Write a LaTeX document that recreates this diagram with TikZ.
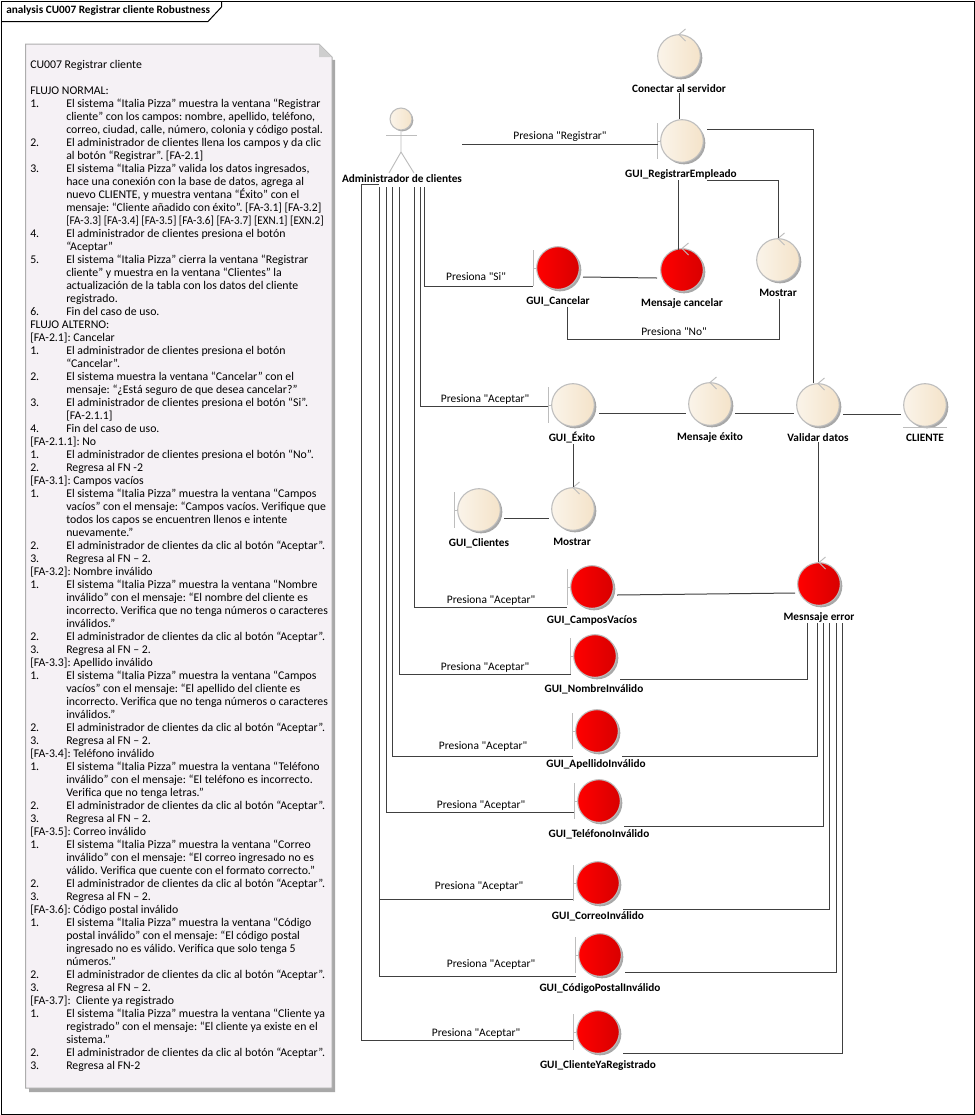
\documentclass[tikz,border=0pt]{standalone}
\usepackage{fontspec}
\usepackage{graphicx}
\setmainfont{Carlito}[Ligatures=TeXOff]
\frenchspacing
\usetikzlibrary{calc,shadows}
\definecolor{edgegrey}{HTML}{BDBDBD}
\definecolor{linegrey}{HTML}{404040}
\definecolor{notefill}{HTML}{F5F1F5}
\definecolor{notedge}{HTML}{ADADAD}
\definecolor{shadowgrey}{HTML}{A8A8A8}
\definecolor{BeigeA}{HTML}{F4E3C9}
\definecolor{RedB}{HTML}{D80000}
\tikzset{
  x=0.75pt,y=-0.75pt,
  ball/.style={circle,draw=edgegrey,line width=0.8pt,inner sep=0pt,minimum size=32pt,
    drop shadow={shadow xshift=1.5pt,shadow yshift=-1.5pt,fill=shadowgrey,opacity=1}},
  beige/.style={ball,left color=white!60!BeigeA,right color=BeigeA},
  redball/.style={ball,left color=red,right color=RedB},
  conn/.style={draw=linegrey,line width=0.75pt},
  mark line/.style={draw=edgegrey,line width=0.7pt},
  lbl/.style={font=\fontsize{8.45}{10}\selectfont\bfseries,inner sep=0pt,text=black},
  elbl/.style={font=\fontsize{8.6}{10}\selectfont,inner sep=0pt,text=black},
  frameline/.style={draw=black,line width=0.75pt},
}
\newcommand\bndry[1]{\draw[mark line] ($(#1)+(-24.5,-18)$) -- ($(#1)+(-24.5,18)$) ($(#1)+(-24.5,0)$) -- ($(#1)+(-21.5,0)$);}
\newcommand\ctrl[1]{\draw[mark line] ($(#1)+(6.5,-5.5-21.5)$) -- ($(#1)+(0,-21.5)$) -- ($(#1)+(6.5,6.5-21.5)$);}
\newcommand\nli[2]{\makebox[27pt][l]{#1}#2}
\newcommand\plain[1]{\mbox{#1}}
\begin{document}
\begin{tikzpicture}
\useasboundingbox (0,0) rectangle (975,1115);
\fill[white] (0,0) rectangle (975,1115);
% frame
\draw[frameline] (1,1) rectangle (974,1114);
\draw[frameline] (1,21.5) -- (208,21.5) -- (221.5,7) -- (221.5,1);
\node[lbl,anchor=west] (title) at (6,10.5) {analysis CU007 Registrar cliente Robustness};
% note
\fill[shadowgrey] (29,48) -- (335,60) -- (335,1092) -- (29,1092) -- cycle;
\path[fill=notefill,draw=notedge,line width=0.75pt] (25.5,44) -- (319,44) -- (332,57) -- (332,1088) -- (25.5,1088) -- cycle;
\path[fill=notedge!60] (319,44) -- (332,57) -- (319,57) -- cycle;
\node[anchor=north west,inner sep=0pt,align=left,font=\fontsize{8.85}{9.75}\selectfont,text=black] (note) at (30,60) {%
\plain{CU007 Registrar cliente}\\
\plain{}\\
\plain{FLUJO NORMAL:}\\
\nli{1.}{El sistema “Italia Pizza” muestra la ventana “Registrar}\\
\nli{}{cliente” con los campos: nombre, apellido, teléfono,}\\
\nli{}{correo, ciudad, calle, número, colonia y código postal.}\\
\nli{2.}{El administrador de clientes llena los campos y da clic}\\
\nli{}{al botón “Registrar”. [FA-2.1]}\\
\nli{3.}{El sistema “Italia Pizza” valida los datos ingresados,}\\
\nli{}{hace una conexión con la base de datos, agrega al}\\
\nli{}{nuevo CLIENTE, y muestra ventana “Éxito” con el}\\
\nli{}{\scalebox{0.985}[1]{mensaje: “Cliente añadido con éxito”. [FA-3.1] [FA-3.2]}}\\
\nli{}{\scalebox{0.94}[1]{[FA-3.3] [FA-3.4] [FA-3.5] [FA-3.6] [FA-3.7] [EXN.1] [EXN.2]}}\\
\nli{4.}{El administrador de clientes presiona el botón}\\
\nli{}{“Aceptar”}\\
\nli{5.}{El sistema “Italia Pizza” cierra la ventana “Registrar}\\
\nli{}{cliente” y muestra en la ventana “Clientes” la}\\
\nli{}{actualización de la tabla con los datos del cliente}\\
\nli{}{registrado.}\\
\nli{6.}{Fin del caso de uso.}\\
\plain{FLUJO ALTERNO:}\\
\plain{[FA-2.1]: Cancelar}\\
\nli{1.}{El administrador de clientes presiona el botón}\\
\nli{}{“Cancelar”.}\\
\nli{2.}{El sistema muestra la ventana “Cancelar” con el}\\
\nli{}{mensaje: “¿Está seguro de que desea cancelar?”}\\
\nli{3.}{El administrador de clientes presiona el botón “Si”.}\\
\nli{}{[FA-2.1.1]}\\
\nli{4.}{Fin del caso de uso.}\\
\plain{[FA-2.1.1]: No}\\
\nli{1.}{El administrador de clientes presiona el botón “No”.}\\
\nli{2.}{Regresa al FN -2}\\
\plain{[FA-3.1]: Campos vacíos}\\
\nli{1.}{El sistema “Italia Pizza” muestra la ventana “Campos}\\
\nli{}{vacíos” con el mensaje: “Campos vacíos. Verifique que}\\
\nli{}{todos los capos se encuentren llenos e intente}\\
\nli{}{nuevamente.”}\\
\nli{2.}{El administrador de clientes da clic al botón “Aceptar”.}\\
\nli{3.}{Regresa al FN – 2.}\\
\plain{[FA-3.2]: Nombre inválido}\\
\nli{1.}{El sistema “Italia Pizza” muestra la ventana “Nombre}\\
\nli{}{inválido” con el mensaje: “El nombre del cliente es}\\
\nli{}{incorrecto. Verifica que no tenga números o caracteres}\\
\nli{}{inválidos.”}\\
\nli{2.}{El administrador de clientes da clic al botón “Aceptar”.}\\
\nli{3.}{Regresa al FN – 2.}\\
\plain{[FA-3.3]: Apellido inválido}\\
\nli{1.}{El sistema “Italia Pizza” muestra la ventana “Campos}\\
\nli{}{vacíos” con el mensaje: “El apellido del cliente es}\\
\nli{}{incorrecto. Verifica que no tenga números o caracteres}\\
\nli{}{inválidos.”}\\
\nli{2.}{El administrador de clientes da clic al botón “Aceptar”.}\\
\nli{3.}{Regresa al FN – 2.}\\
\plain{[FA-3.4]: Teléfono inválido}\\
\nli{1.}{El sistema “Italia Pizza” muestra la ventana “Teléfono}\\
\nli{}{inválido” con el mensaje: “El teléfono es incorrecto.}\\
\nli{}{Verifica que no tenga letras.”}\\
\nli{2.}{El administrador de clientes da clic al botón “Aceptar”.}\\
\nli{3.}{Regresa al FN – 2.}\\
\plain{[FA-3.5]: Correo inválido}\\
\nli{1.}{El sistema “Italia Pizza” muestra la ventana “Correo}\\
\nli{}{inválido” con el mensaje: “El correo ingresado no es}\\
\nli{}{válido. Verifica que cuente con el formato correcto.”}\\
\nli{2.}{El administrador de clientes da clic al botón “Aceptar”.}\\
\nli{3.}{Regresa al FN – 2.}\\
\plain{[FA-3.6]: Código postal inválido}\\
\nli{1.}{El sistema “Italia Pizza” muestra la ventana “Código}\\
\nli{}{postal inválido” con el mensaje: “El código postal}\\
\nli{}{ingresado no es válido. Verifica que solo tenga 5}\\
\nli{}{números.”}\\
\nli{2.}{El administrador de clientes da clic al botón “Aceptar”.}\\
\nli{3.}{Regresa al FN – 2.}\\
\plain{[FA-3.7]:\ \ Cliente ya registrado}\\
\nli{1.}{El sistema “Italia Pizza” muestra la ventana “Cliente ya}\\
\nli{}{registrado” con el mensaje: “El cliente ya existe en el}\\
\nli{}{sistema.”}\\
\nli{2.}{El administrador de clientes da clic al botón “Aceptar”.}\\
\nli{3.}{Regresa al FN-2}
};
% actor
\node[circle,draw=edgegrey,line width=0.8pt,inner sep=0pt,minimum size=16.5pt,left color=white!60!BeigeA,right color=BeigeA,
  drop shadow={shadow xshift=1pt,shadow yshift=-1pt,fill=shadowgrey,opacity=1}] (actor) at (401,119) {};
\draw[mark line] (actor.south) -- ($(actor)+(0,33)$) -- ($(actor)+(-12,54)$);
\draw[mark line] ($(actor)+(0,33)$) -- ($(actor)+(13,54)$);
\draw[mark line] ($(actor)+(-15,16)$) -- ($(actor)+(16,16)$);
\node[lbl] (ladm) at (402,179) {Administrador de clientes};
% elements
\node[beige] (conectar) at (679,56) {};
\node[beige] (registrar) at (682,141) {};
\node[redball] (cancelar) at (558,268) {};
\node[redball] (mcancelar) at (682,270) {};
\node[beige] (mostrarA) at (778,260) {};
\node[beige] (exito) at (573,405) {};
\node[beige] (mexito) at (710,404) {};
\node[beige] (validar) at (818,405) {};
\node[beige] (cliente) at (925,405) {};
\node[beige] (clientes) at (479,510) {};
\node[beige] (mostrarB) at (573,509) {};
\node[redball] (campos) at (592,587) {};
\node[redball] (merror) at (819,584) {};
\node[redball] (nombre) at (595,656) {};
\node[redball] (apellido) at (597,731) {};
\node[redball] (telefono) at (599,801) {};
\node[redball] (correo) at (598,883) {};
\node[redball] (codigo) at (600,955) {};
\node[redball] (yareg) at (598,1032) {};
% stereotype marks
\bndry{registrar}\bndry{cancelar}\bndry{exito}\bndry{clientes}\bndry{campos}\bndry{nombre}\bndry{apellido}\bndry{telefono}\bndry{correo}\bndry{codigo}\bndry{yareg}
\ctrl{conectar}\ctrl{mcancelar}\ctrl{mostrarA}\ctrl{mexito}\ctrl{validar}\ctrl{mostrarB}\ctrl{merror}
\draw[mark line] ($(cliente)+(-22,22)$) -- ($(cliente)+(22,22)$);
% element labels
\node[lbl] (lconectar) at (679,89) {Conectar al servidor};
\node[lbl] (lregistrar) at (681,174) {GUI\_RegistrarEmpleado};
\node[lbl] (lcancelar) at (558,301) {GUI\_Cancelar};
\node[lbl] (lmcancelar) at (682,303) {Mensaje cancelar};
\node[lbl] (lmostrarA) at (778,293) {Mostrar};
\node[lbl] (lexito) at (572,438) {GUI\_Éxito};
\node[lbl] (lmexito) at (710,437) {Mensaje éxito};
\node[lbl] (lvalidar) at (818,438) {Validar datos};
\node[lbl] (lcliente) at (925,438) {CLIENTE};
\node[lbl] (lclientes) at (479,543) {GUI\_Clientes};
\node[lbl] (lmostrarB) at (572,542) {Mostrar};
\node[lbl] (lcampos) at (592,620) {GUI\_CamposVacíos};
\node[lbl] (lmerror) at (819,617) {Mesnsaje error};
\node[lbl] (lnombre) at (594,689) {GUI\_NombreInválido};
\node[lbl] (lapellido) at (596,764) {GUI\_ApellidoInválido};
\node[lbl] (ltelefono) at (599,834) {GUI\_TeléfonoInválido};
\node[lbl] (lcorreo) at (598,916) {GUI\_CorreoInválido};
\node[lbl] (lcodigo) at (600,988) {GUI\_CódigoPostalInválido};
\node[lbl] (lyareg) at (598,1065) {GUI\_ClienteYaRegistrado};
% connectors
\draw[conn] ($(actor)+(61,25)$) -- ($(registrar)+(-24.5,3)$);
\draw[conn] (lconectar.south -| conectar) -- (registrar.north -| conectar);
\draw[conn] ($(registrar)+(25,-12)$) -| (validar.north -| 813,0);
\draw[conn] ($(lregistrar)+(26,6)$) -| (mostrarA.north);
\draw[conn] ($(lregistrar)+(-3,6)$) -- ($(mcancelar)+(-4,-20)$);
\draw[conn] ($(lmostrarA)+(1,6)$) |- ($(lmostrarA)+(1,46)$) -| ($(lcancelar)+(9,6)$);
\draw[conn] ($(cancelar)+(25,9)$) -- ($(mcancelar)+(-25,8)$);
\draw[conn] ($(ladm)+(22,8)$) |- ($(cancelar)+(-25,18)$);
\draw[conn] ($(ladm)+(18,8)$) |- ($(exito)+(-25,1)$);
\draw[conn] ($(ladm)+(12,8)$) |- ($(campos)+(-25,20)$);
\draw[conn] ($(ladm)+(-3,8)$) |- ($(nombre)+(-24,18)$);
\draw[conn] ($(ladm)+(-10,8)$) |- ($(apellido)+(-24,25)$);
\draw[conn] ($(ladm)+(-16,8)$) |- ($(telefono)+(-25,11)$);
\draw[conn] ($(ladm)+(-23,8)$) |- ($(correo)+(-25,16)$);
\draw[conn] ($(ladm)+(-23,8)$) |- ($(codigo)+(-24,21)$);
\draw[conn] ($(ladm)+(-23,5)$) -- ($(ladm)+(-41,5)$) |- ($(yareg)+(-25,8)$);
\draw[conn] ($(exito)+(26,8)$) -- ($(mexito)+(-24,9)$);
\draw[conn] ($(mexito)+(25,9)$) -- ($(validar)+(-24,8)$);
\draw[conn] ($(validar)+(25,9)$) -- ($(cliente)+(-24,9)$);
\draw[conn] (lvalidar.south) -- (merror.north -| lvalidar.south);
\draw[conn] (lexito.south -| exito) -- (mostrarB.north);
\draw[conn] ($(clientes)+(25,8)$) -- ($(mostrarB)+(-24,9)$);
\draw[conn] ($(campos)+(25,8)$) -- ($(merror)+(-24,9)$);
\draw[conn] ($(nombre)+(25,23)$) -| ($(lmerror)+(-12,6)$);
\draw[conn] ($(apellido)+(25,25)$) -| ($(lmerror)+(-2,6)$);
\draw[conn] ($(telefono)+(25,25)$) -| ($(lmerror)+(4,6)$);
\draw[conn] ($(correo)+(25,26)$) -| ($(lmerror)+(10,6)$);
\draw[conn] ($(codigo)+(25,17)$) -| ($(lmerror)+(17,6)$);
\draw[conn] ($(yareg)+(25,21)$) -| ($(lmerror)+(23,6)$);
% connector labels
\node[elbl] (e1) at (560,137) {Presiona "Registrar"};
\node[elbl] (e2) at (476,277) {Presiona "Si"};
\node[elbl] (e3) at (674,332) {Presiona "No"};
\node[elbl] (e4) at (485,399) {Presiona "Aceptar"};
\node[elbl] (e5) at (491,600) {Presiona "Aceptar"};
\node[elbl] (e6) at (485,667) {Presiona "Aceptar"};
\node[elbl] (e7) at (483,746) {Presiona "Aceptar"};
\node[elbl] (e8) at (481,805) {Presiona "Aceptar"};
\node[elbl] (e9) at (479,886) {Presiona "Aceptar"};
\node[elbl] (e10) at (491,964) {Presiona "Aceptar"};
\node[elbl] (e11) at (476,1033) {Presiona "Aceptar"};
\end{tikzpicture}
\end{document}
